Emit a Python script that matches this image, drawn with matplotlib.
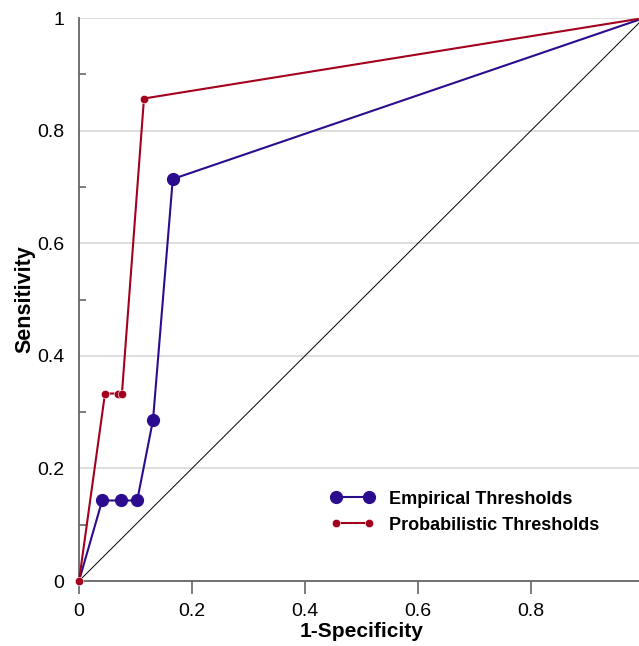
import numpy as np
import matplotlib
matplotlib.use("Agg")
import matplotlib.pyplot as plt

plt.rcParams['font.family'] = ['Liberation Sans', 'DejaVu Sans']

# ROC points
empFpr = [0.0, 0.041, 0.074, 0.103, 0.131, 0.166, 1.0]
empTpr = [0.0, 0.143, 0.143, 0.143, 0.286, 0.714, 1.0]

probFpr = [0.0, 0.046, 0.069, 0.076, 0.115, 1.0]
probTpr = [0.0, 0.333, 0.333, 0.333, 0.857, 1.0]

tickVals = [0, 0.2, 0.4, 0.6, 0.8, 1]
tickLabels = ["0", "0.2", "0.4", "0.6", "0.8", "1"]

blue = "#2c0c8e"
red = "#a3001e"

fig = plt.figure(figsize=(6.39, 6.46), dpi=100)
ax = fig.add_axes([79/639, 65/646, 565/639, 563/646])

ax.plot([0, 1], [0, 1], color="black", lw=0.7, zorder=2)
ax.plot(empFpr[:-1], empTpr[:-1], color=blue, lw=1.5, marker="o", ms=8.5,
        markevery=list(range(1, len(empFpr) - 1)),
        label="Empirical Thresholds", zorder=3)
ax.plot(empFpr[-2:], empTpr[-2:], color=blue, lw=1.5, zorder=3)
ax.plot(probFpr[:-1], probTpr[:-1], color=red, lw=1.5, marker="o", ms=6,
        mec="white", mew=0.4, label="Probabilistic Thresholds", zorder=4,
        clip_on=False)
ax.plot(probFpr[-2:], probTpr[-2:], color=red, lw=1.5, zorder=4)

ax.set_xlim(0, 1)
ax.set_ylim(0, 1)
ax.set_xticks(tickVals)
ax.set_xticklabels(tickLabels)
ax.set_yticks(tickVals)
ax.set_yticklabels(tickLabels)
ax.set_yticks([0.1, 0.3, 0.5, 0.7, 0.9], minor=True)

ax.grid(axis="y", color="#d8d8d8", lw=1.2, zorder=0)
ax.set_axisbelow(True)
for s in ["top", "right"]:
    ax.spines[s].set_visible(False)
for s in ["left", "bottom"]:
    ax.spines[s].set_color("#666666")
    ax.spines[s].set_linewidth(1.3)
    ax.spines[s].set_zorder(1)

ax.tick_params(axis="x", which="major", direction="out", length=9, width=1.2,
               color="#666666", labelsize=14, pad=7)
ax.tick_params(axis="y", which="major", length=0, labelsize=14, pad=10.5)
ax.tick_params(axis="y", which="minor", direction="in", length=5, width=1.2,
               color="#666666")

ax.set_xlabel("1-Specificity", fontsize=15, fontweight="bold", labelpad=1)
ax.set_ylabel("Sensitivity", fontsize=15.5, fontweight="bold", labelpad=1)

leg = ax.legend(loc="lower left", bbox_to_anchor=(0.417, 0.055), frameon=False,
                numpoints=2, handlelength=2.4, handletextpad=0.8,
                labelspacing=0.5, prop={"size": 13, "weight": "bold"})

fig.savefig("out.png", dpi=100)
